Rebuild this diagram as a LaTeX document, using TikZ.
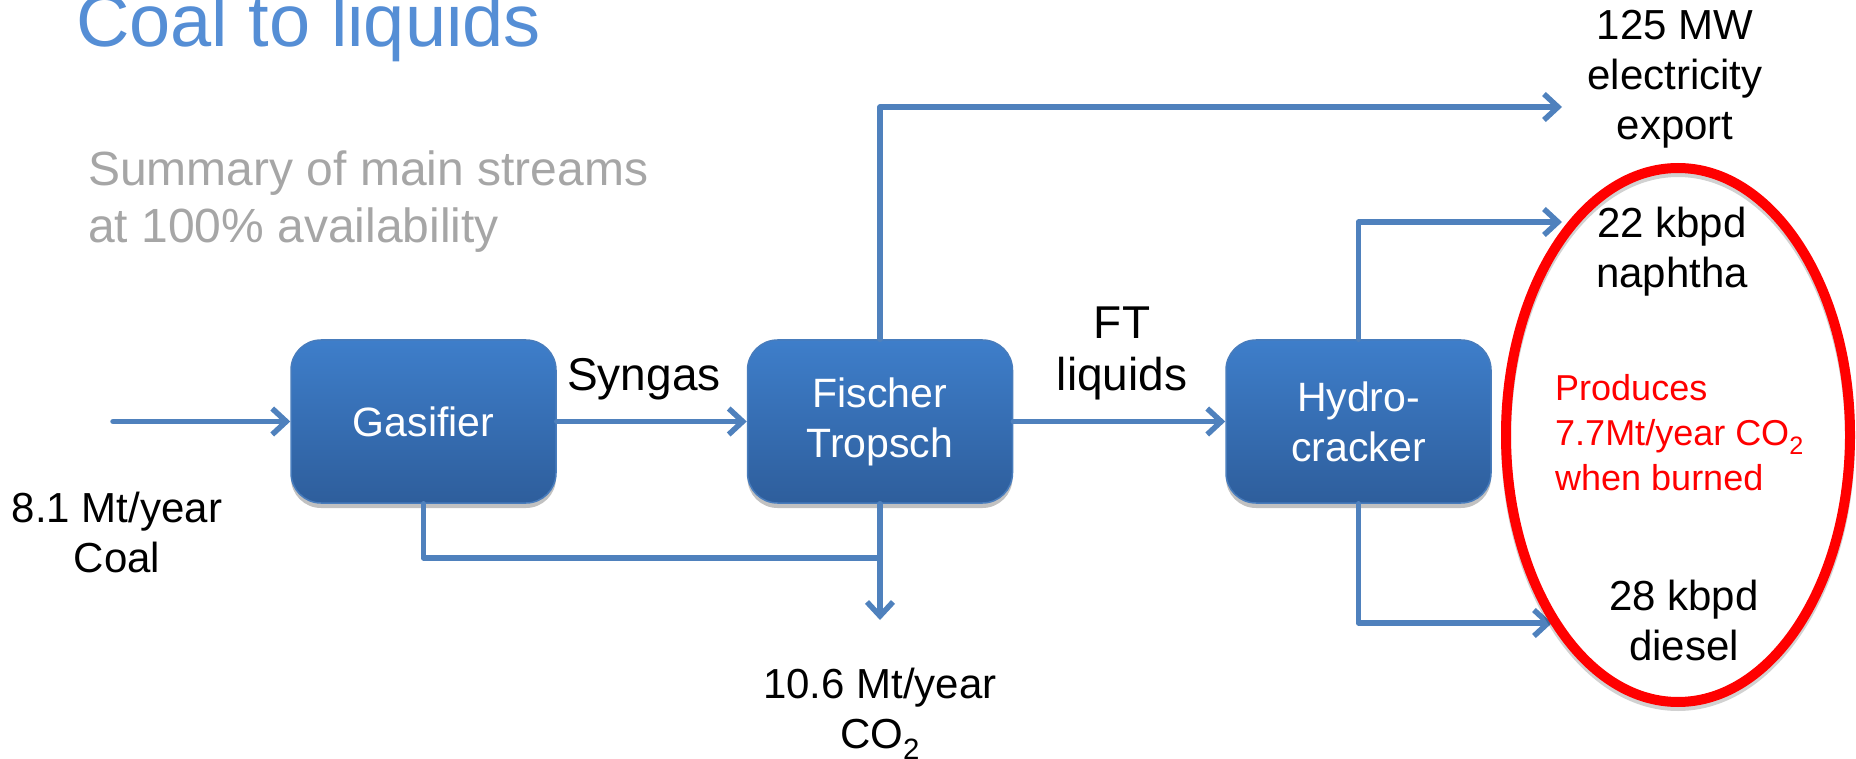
\documentclass[tikz,border=0pt]{standalone}
\usepackage{fontspec}
\setmainfont{Liberation Sans}
\usetikzlibrary{arrows.meta,shadows,shapes.geometric}
\definecolor{arrowblue}{RGB}{79,129,189}
\definecolor{boxtop}{RGB}{62,126,202}
\definecolor{boxbot}{RGB}{46,94,156}
\definecolor{boxedge}{RGB}{72,124,188}
\definecolor{titleblue}{RGB}{85,142,213}
\definecolor{subgray}{RGB}{166,166,166}
\definecolor{hired}{RGB}{255,0,0}
\newcommand\mlc[1]{\begin{tabular}[t]{@{}c@{}}#1\end{tabular}}
\newcommand\mll[1]{\begin{tabular}[t]{@{}l@{}}#1\end{tabular}}
\tikzset{
  procbox/.style={rectangle, rounded corners=30pt, minimum width=265pt, minimum height=163pt,
    inner sep=0pt, top color=boxtop, bottom color=boxbot, draw=boxedge, line width=1.5pt,
    text=white, align=center, font=\fontsize{41}{50}\selectfont,
    drop shadow={shadow xshift=0pt, shadow yshift=-5pt, opacity=0.35, fill=black!70}},
  conn/.style={draw=arrowblue, line width=5.5pt, line cap=round, line join=round},
  arr/.style={conn, -{Straight Barb[length=14pt,width=26pt]}},
  lbl/.style={inner sep=0pt, anchor=base, font=\fontsize{42}{50}\selectfont},
  biglbl/.style={inner sep=0pt, anchor=base, font=\fontsize{46}{52}\selectfont},
  redlbl/.style={inner sep=0pt, anchor=base west, text=hired, font=\fontsize{36}{45}\selectfont},
}
\begin{document}
\begin{tikzpicture}[x=1pt,y=-1pt]
\useasboundingbox (0,0) rectangle (1856,759);
% title and subtitle
\node[inner sep=0pt, anchor=base west, text=titleblue, font=\fontsize{74}{88}\selectfont] (title) at (76,47) {Coal to liquids};
\node[inner sep=0pt, anchor=base west, text=subgray, font=\fontsize{48}{57}\selectfont] (subtitle) at (88,186)
  {\mll{Summary of main streams\\at 100\% availability}};
% process boxes
\node[procbox] (gas) at (423.5,421.5) {Gasifier};
\node[procbox] (ft) at (880,421.5) {Fischer\\Tropsch};
\node[procbox] (hc) at (1358.5,421.5) {Hydro-\\cracker};
% free ends
\coordinate (coalstart) at (113,421.5);
\coordinate (elecend) at (1562,107);
\coordinate (naphend) at (1562,222);
\coordinate (dieselend) at (1552,623);
\coordinate (join) at (880,558);
\coordinate (co2end) at (880,620);
% connectors
\draw[arr] (coalstart) -- (gas.west);
\draw[arr] (gas.east) -- (ft.west);
\draw[arr] (ft.east) -- (hc.west);
\draw[arr] (ft.north) |- (elecend);
\draw[arr] (hc.north) |- (naphend);
\draw[arr] (hc.south) |- (dieselend);
\draw[conn] (gas.south) |- (join);
\draw[arr] (ft.south) -- (co2end);
% labels
\node[biglbl] (syngas) at (644,391) {Syngas};
\node[biglbl] (ftliq) at (1122,338) {\mlc{FT\\liquids}};
\node[lbl] (coal) at (117,522) {\mlc{8.1 Mt/year\\Coal}};
\node[lbl] (elec) at (1675,40) {\mlc{125 MW\\electricity\\export}};
\node[lbl] (naph) at (1672,238) {\mlc{22 kbpd\\naphtha}};
\node[lbl] (diesel) at (1684,610) {\mlc{28 kbpd\\diesel}};
\node[lbl] (co2) at (880,698) {\mlc{10.6 Mt/year\\CO\textsubscript{2}}};
% highlight ellipse
\draw[black, opacity=0.18, line width=10pt] (1678,439) ellipse [x radius=172, y radius=267];
\node[ellipse, draw=hired, line width=10pt, minimum width=344pt, minimum height=534pt, inner sep=0pt] (hl) at (1678,435) {};
\node[redlbl] (redtxt) at (1555,400) {\mll{Produces\\7.7Mt/year CO\textsubscript{2}\\when burned}};
\end{tikzpicture}
\end{document}
